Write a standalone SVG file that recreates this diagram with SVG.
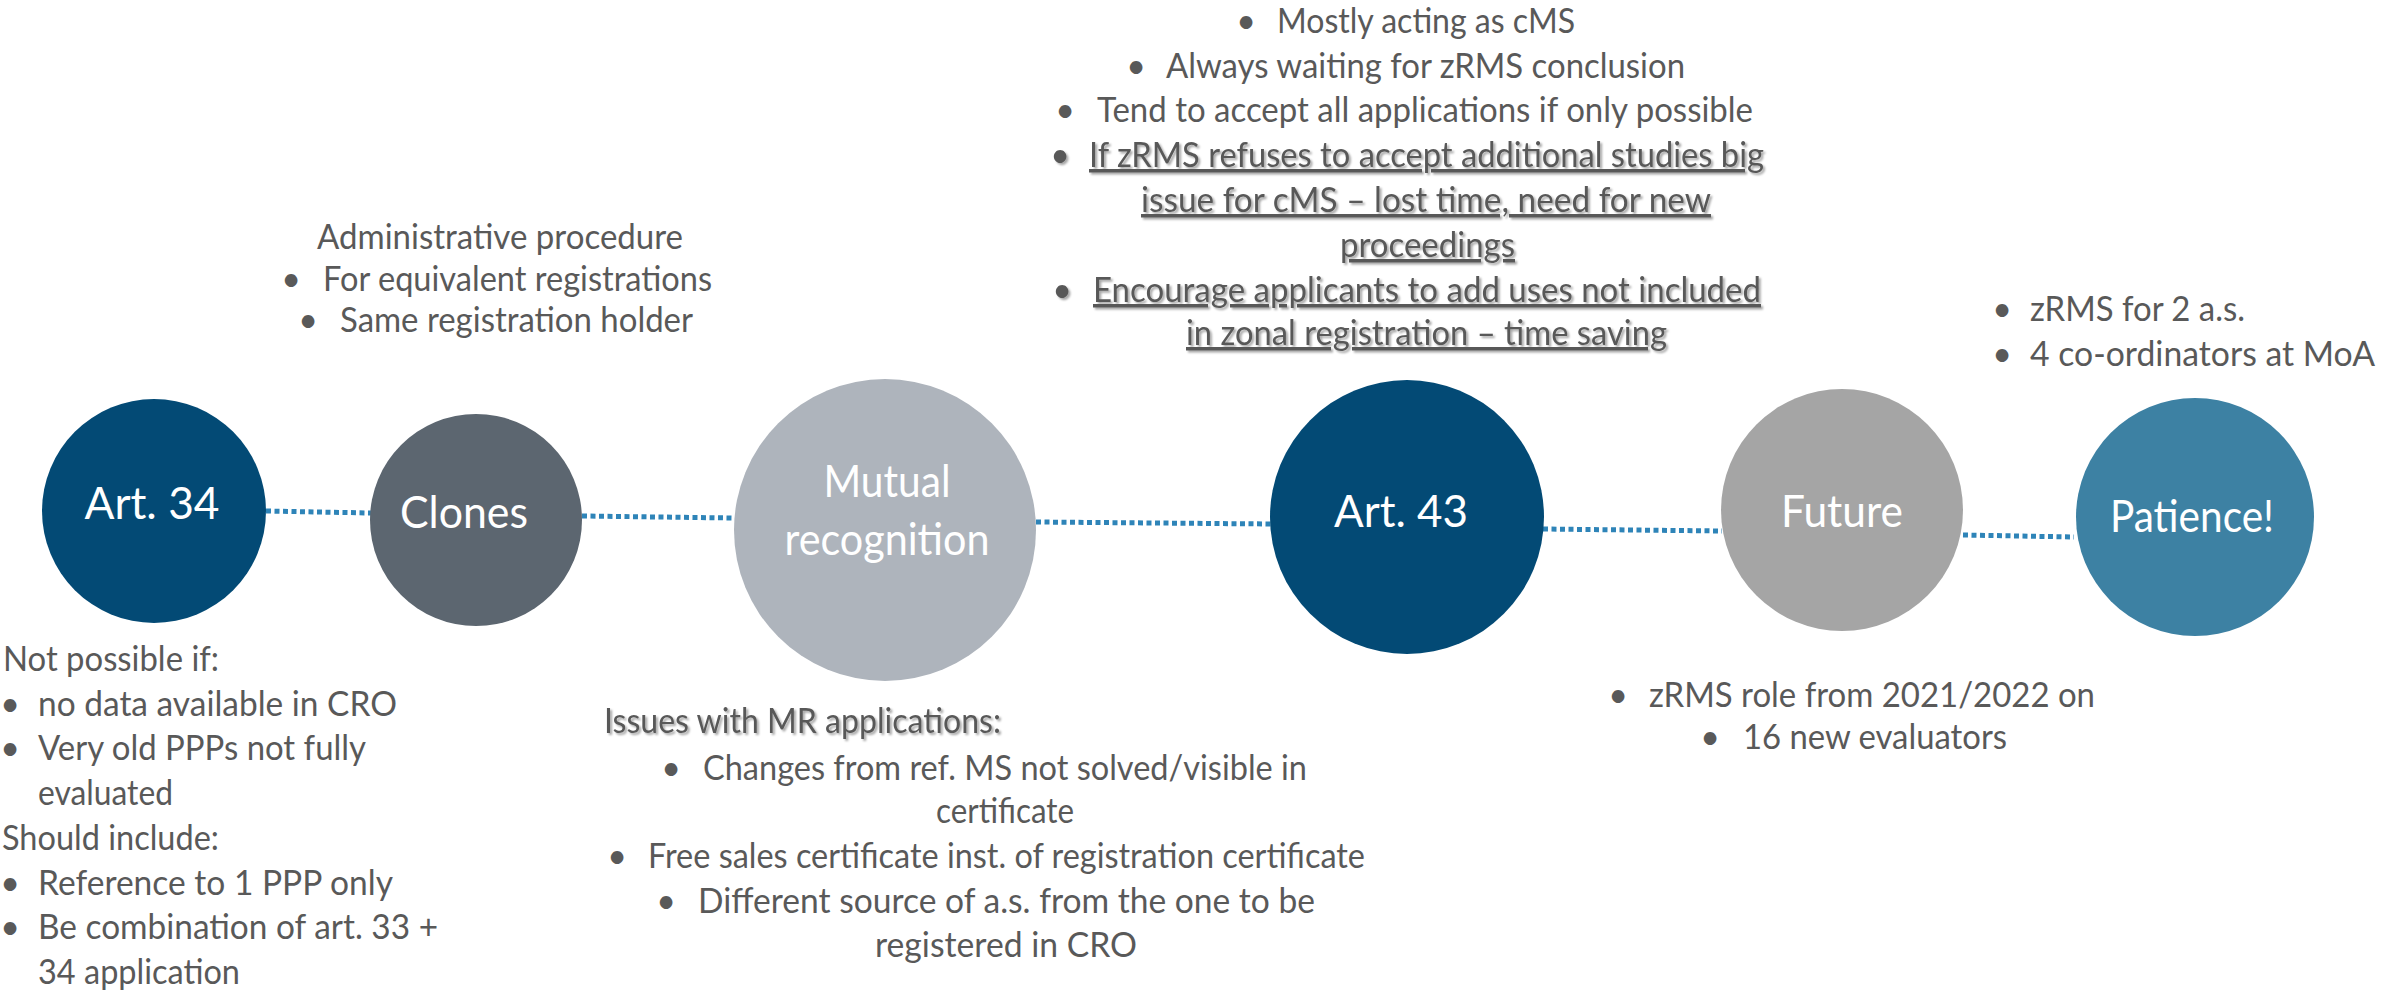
<svg xmlns="http://www.w3.org/2000/svg" width="2402" height="991" viewBox="0 0 2402 991">
<style>
.lbl{font-family:Lato,"Open Sans",sans-serif;font-size:45px;fill:#fff;text-anchor:middle}
.t{font-family:Lato,"Open Sans",sans-serif;font-size:35px;fill:#595959}
.b{font-family:Lato,"Open Sans",sans-serif;font-size:34px;fill:#595959;text-anchor:middle}
.u{text-decoration:underline}
.conn{stroke:#2E84B8;stroke-width:5;stroke-dasharray:5 3.5;fill:none}
</style>
<defs>
<filter id="sh" x="-5%" y="-30%" width="110%" height="160%">
<feDropShadow dx="2" dy="2" stdDeviation="1.2" flood-color="#000" flood-opacity="0.35"/>
</filter>
</defs>
<rect width="2402" height="991" fill="#fff"/>
<g id="connectors">
<line class="conn" x1="266" y1="511" x2="371" y2="513"/>
<line class="conn" x1="582" y1="516" x2="734" y2="518"/>
<line class="conn" x1="1036" y1="522" x2="1272" y2="524"/>
<line class="conn" x1="1543" y1="529" x2="1722" y2="531"/>
<line class="conn" x1="1963" y1="535" x2="2074" y2="537"/>
</g>
<g id="art34">
<circle cx="154" cy="511" r="112" fill="#034A75"/>
<text class="lbl" x="152" y="519" textLength="135" lengthAdjust="spacingAndGlyphs">Art. 34</text>
</g>
<g id="clones">
<circle cx="476" cy="520" r="106" fill="#5C6670"/>
<text class="lbl" x="464" y="528" textLength="128" lengthAdjust="spacingAndGlyphs">Clones</text>
</g>
<g id="mutual">
<circle cx="885" cy="530" r="151" fill="#AEB4BC"/>
<text class="lbl" x="887" y="497" textLength="127" lengthAdjust="spacingAndGlyphs">Mutual</text>
<text class="lbl" x="887" y="555" textLength="205" lengthAdjust="spacingAndGlyphs">recognition</text>
</g>
<g id="art43">
<circle cx="1407" cy="517" r="137" fill="#034A75"/>
<text class="lbl" x="1401" y="527" textLength="134" lengthAdjust="spacingAndGlyphs">Art. 43</text>
</g>
<g id="future">
<circle cx="1842" cy="510" r="121" fill="#A5A5A5"/>
<text class="lbl" x="1842" y="527" textLength="122" lengthAdjust="spacingAndGlyphs">Future</text>
</g>
<g id="patience">
<circle cx="2195" cy="517" r="119" fill="#3D81A3"/>
<text class="lbl" x="2192" y="532" textLength="164" lengthAdjust="spacingAndGlyphs">Patience!</text>
</g>
<g id="note-art34">
<text class="t" x="3" y="671" textLength="216" lengthAdjust="spacingAndGlyphs">Not possible if:</text>
<text class="b" x="10" y="716">•</text>
<text class="t" x="38" y="716" textLength="359" lengthAdjust="spacingAndGlyphs">no data available in CRO</text>
<text class="b" x="10" y="760">•</text>
<text class="t" x="38" y="760" textLength="328" lengthAdjust="spacingAndGlyphs">Very old PPPs not fully</text>
<text class="t" x="38" y="805" textLength="135" lengthAdjust="spacingAndGlyphs">evaluated</text>
<text class="t" x="2" y="850" textLength="217" lengthAdjust="spacingAndGlyphs">Should include:</text>
<text class="b" x="10" y="895">•</text>
<text class="t" x="38" y="895" textLength="355" lengthAdjust="spacingAndGlyphs">Reference to 1 PPP only</text>
<text class="b" x="10" y="939">•</text>
<text class="t" x="38" y="939" textLength="400" lengthAdjust="spacingAndGlyphs">Be combination of art. 33 +</text>
<text class="t" x="38" y="984" textLength="202" lengthAdjust="spacingAndGlyphs">34 application</text>
</g>
<g id="note-clones">
<text class="t" x="317" y="249" textLength="366" lengthAdjust="spacingAndGlyphs">Administrative procedure</text>
<text class="b" x="291" y="291">•</text>
<text class="t" x="323" y="291" textLength="389" lengthAdjust="spacingAndGlyphs">For equivalent registrations</text>
<text class="b" x="308" y="332">•</text>
<text class="t" x="340" y="332" textLength="353" lengthAdjust="spacingAndGlyphs">Same registration holder</text>
</g>
<g id="note-mutual">
<text class="t" x="604" y="733" filter="url(#sh)" textLength="397" lengthAdjust="spacingAndGlyphs">Issues with MR applications:</text>
<text class="b" x="671" y="780">•</text>
<text class="t" x="703" y="780" textLength="604" lengthAdjust="spacingAndGlyphs">Changes from ref. MS not solved/visible in</text>
<text class="t" x="936" y="823" textLength="138" lengthAdjust="spacingAndGlyphs">certificate</text>
<text class="b" x="617" y="868">•</text>
<text class="t" x="648" y="868" textLength="717" lengthAdjust="spacingAndGlyphs">Free sales certificate inst. of registration certificate</text>
<text class="b" x="666" y="913">•</text>
<text class="t" x="698" y="913" textLength="617" lengthAdjust="spacingAndGlyphs">Different source of a.s. from the one to be</text>
<text class="t" x="875" y="957" textLength="262" lengthAdjust="spacingAndGlyphs">registered in CRO</text>
</g>
<g id="note-art43">
<text class="b" x="1246" y="33">•</text>
<text class="t" x="1277" y="33" textLength="298" lengthAdjust="spacingAndGlyphs">Mostly acting as cMS</text>
<text class="b" x="1136" y="78">•</text>
<text class="t" x="1166" y="78" textLength="519" lengthAdjust="spacingAndGlyphs">Always waiting for zRMS conclusion</text>
<text class="b" x="1065" y="122">•</text>
<text class="t" x="1097" y="122" textLength="656" lengthAdjust="spacingAndGlyphs">Tend to accept all applications if only possible</text>
<g filter="url(#sh)">
<text class="b" x="1060" y="167">•</text>
<text class="t u" x="1089" y="167" textLength="675" lengthAdjust="spacingAndGlyphs">If zRMS refuses to accept additional studies big</text>
<text class="t u" x="1141" y="212" textLength="570" lengthAdjust="spacingAndGlyphs">issue for cMS – lost time, need for new</text>
<text class="t u" x="1340" y="257" textLength="175" lengthAdjust="spacingAndGlyphs">proceedings</text>
<text class="b" x="1062" y="302">•</text>
<text class="t u" x="1093" y="302" textLength="668" lengthAdjust="spacingAndGlyphs">Encourage applicants to add uses not included</text>
<text class="t u" x="1186" y="345" textLength="481" lengthAdjust="spacingAndGlyphs">in zonal registration – time saving</text>
</g>
</g>
<g id="note-future">
<text class="b" x="1618" y="707">•</text>
<text class="t" x="1649" y="707" textLength="446" lengthAdjust="spacingAndGlyphs">zRMS role from 2021/2022 on</text>
<text class="b" x="1710" y="749">•</text>
<text class="t" x="1743" y="749" textLength="264" lengthAdjust="spacingAndGlyphs">16 new evaluators</text>
</g>
<g id="note-patience">
<text class="b" x="2002" y="321">•</text>
<text class="t" x="2030" y="321" textLength="215" lengthAdjust="spacingAndGlyphs">zRMS for 2 a.s.</text>
<text class="b" x="2002" y="366">•</text>
<text class="t" x="2030" y="366" textLength="345" lengthAdjust="spacingAndGlyphs">4 co-ordinators at MoA</text>
</g>
</svg>
